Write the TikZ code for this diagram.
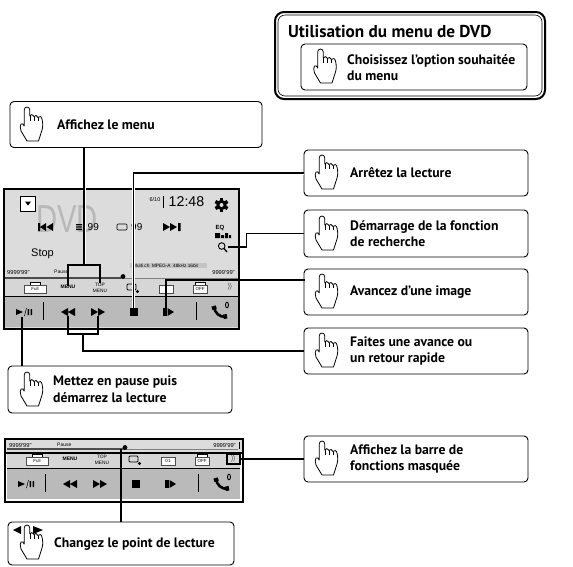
\documentclass[tikz,border=0pt]{standalone}
\usepackage{fontspec}
\setmainfont{PT Sans}
\newfontfamily\uifont{Liberation Sans}
\usetikzlibrary{arrows,positioning}
\definecolor{screenbg}{HTML}{DCDCDC}
\definecolor{midbg}{HTML}{D6D6D6}
\definecolor{lowbg}{HTML}{BABABA}
\definecolor{tagbg}{HTML}{C4C4C4}
\tikzset{font=\small}
\tikzset{callbox/.style={draw,line width=.9pt,rounded corners=4pt,fill=white,inner sep=0pt}}
\tikzset{calltext/.style={anchor=west,align=left,inner sep=0pt,font=\fontsize{13.7}{16.6}\selectfont\bfseries}}
\tikzset{link/.style={line width=1.3pt,line cap=rect}}
\tikzset{halo/.style={preaction={draw=white,line width=3pt}}}
\tikzset{uitext/.style={inner sep=0pt,font=\uifont\fontsize{#1}{#1}\selectfont}}
\tikzset{softkey/.style={draw=black!70,line width=.5pt,fill=white,minimum width=14pt,minimum height=8.5pt,inner sep=0pt,font=\uifont\fontsize{4.5}{5}\selectfont}}
\tikzset{iconbox/.style={inner sep=0pt,minimum width=#1,minimum height=8pt}}
\tikzset{
  hand/.pic={
    \draw[line width=.8pt,fill=white,line join=round]
      (-2.8,19)--(-2.8,3) .. controls (-2.8,-1) and (2.8,-1) .. (2.8,3)--(2.8,9)
      .. controls (4,7) and (6,7) .. (7,9.5) .. controls (8,8) and (10,8) .. (11,10.5)
      .. controls (12,9) and (14.5,9) .. (15,12) .. controls (16,16) and (16,20) .. (15,23)
      --(11.5,34)--(0,34)--(-6,24) .. controls (-7,21) and (-7,18) .. (-6,17)
      .. controls (-5,16) and (-3.5,17) .. (-2.8,19)--cycle;
    \draw[line width=.6pt] (2.8,9)--(2.8,14) (7,9.5)--(7,14) (11,10.5)--(11,14);
  },
  toolbar/.pic={
    \fill[midbg] (5,279) rectangle (238,296);
    \fill[lowbg] (5,296) rectangle (238,327);
    \draw[line width=.9pt] (5,296)--(238,296);
    \draw[line width=.4pt,fill=white] (30,282.5) rectangle (40,286);
    \node[softkey,minimum width=22pt] (-full) at (35,289) {Full};
    \node[uitext=5,font=\uifont\bfseries\fontsize{5}{5}\selectfont] (-menu) at (68,287) {MENU};
    \node[uitext=4.8,align=center] (-top) at (100,287.5) {TOP\\[1pt]MENU};
    \draw[line width=.8pt,rounded corners=1pt] (127,284) rectangle (136,290);
    \fill (137.5,291.5) circle (1.6);
    \node[softkey] (-chap) at (166,289) {};
    \draw[line width=.4pt,fill=white] (195,282.5) rectangle (205,286);
    \node[softkey] (-off) at (200,289) {OFF};
    \node[uitext=7] (-more) at (230,287) {$\rangle\!\rangle$};
    % lower row of keys
    \coordinate (-play) at (22,318);
    \fill (16,309)--(16,315)--(23,312)--cycle;
    \draw[line width=.6pt] (24.5,316)--(26.5,308);
    \fill (27.5,309) rectangle (29,315) (30.5,309) rectangle (32,315);
    \draw[line width=.8pt] (43,302)--(43,320) (196,302)--(196,320);
    \node[iconbox=14pt] (-rew) at (68,312) {};
    \fill (61,312)--(68,308)--(68,316)--cycle (68,312)--(75,308)--(75,316)--cycle;
    \node[iconbox=14pt] (-fwd) at (98,312) {};
    \fill (98,308)--(98,316)--(105,312)--cycle (91,308)--(91,316)--(98,312)--cycle;
    \node[draw,fill=black,inner sep=0pt,minimum size=7pt] (-stop) at (133.5,312) {};
    \node[iconbox=10pt] (-step) at (166,312) {};
    \fill (163,308) rectangle (167,316);
    \fill (167.5,308)--(167.5,316)--(174,312)--cycle;
    \draw[line width=2.6pt] (214,307) .. controls (215,313) and (219,317) .. (226,317);
    \draw[line width=4.5pt] (213.6,306)--(214.6,309.5) (223.5,316.8)--(227,316.2);
    \draw[line width=.9pt] (227,305) ellipse (1.5 and 2.8);
  }
}
\begin{document}
\begin{tikzpicture}[x=1pt,y=-1pt]
\useasboundingbox (0,0) rectangle (573,566);
% first screen
\node[draw,line width=2pt,fill=screenbg,minimum width=235pt,minimum height=140pt,inner sep=0pt] (screenA) at (121.5,259) {};
\node[uitext=39,text=black!28] (dvdtitle) at (67,219) {\scalebox{.75}[1]{DVD}};
\node[draw,line width=.9pt,fill=white,minimum size=15pt,inner sep=0pt] (dropkey) at (28,203.5) {};
\fill (25,201.5)--(31,201.5)--(28,205.5)--cycle;
\node[uitext=5.5] (track) at (155,200) {6/10};
\node[uitext=14.2] (clock) at (186.5,202) {12:48};
\draw[line width=.8pt] (163.5,196)--(163.5,208);
% gear of the settings key
\fill (221.5,205) circle (5.2);
\foreach \a in {0,60,...,300}{
  \fill[rotate around={\a:(221.5,205)}] (219.8,198) rectangle (223.2,202);
};
\fill[screenbg] (221.5,205) circle (2);
\fill (38,223) rectangle (40,231) (40,227)--(46,223)--(46,231)--cycle (46.5,227)--(53,223)--(53,231)--cycle;
\fill (163,223)--(163,231)--(170,227)--cycle (170,223)--(170,231)--(177,227)--cycle (178,223) rectangle (180.5,231);
\fill (76,224) rectangle (82,225.4) (76,226.3) rectangle (82,227.7) (76,228.6) rectangle (82,230);
\node[uitext=10,anchor=west] (folder) at (87.5,227) {99};
\draw[line width=.6pt,rounded corners=1pt] (117,224) rectangle (127,230);
\node[uitext=10,anchor=west] (songno) at (131,227) {99};
\node[font=\uifont\bfseries\fontsize{6}{6}\selectfont,inner sep=0pt] (eq) at (220,228) {EQ};
\fill (215,233) rectangle (220,238) (221,235) rectangle (224,238) (225,233) rectangle (228,238) (229,235) rectangle (231,238);
\node[inner sep=0pt,minimum size=5pt] (lens) at (225.5,247) {};
\draw[line width=.9pt] (221.7,246) circle (3.3);
\draw[line width=1.3pt] (224,248.5)--(227,252);
\node[uitext=11,anchor=west] (status) at (31,254) {Stop};
\fill[tagbg] (129.5,263) rectangle (207,268);
\node[uitext=4.7,anchor=west] (tags) at (133,265.5) {Multi ch \ MPEG-A \ 48kHz 16bit};
\node[uitext=5.8,anchor=west] (timeleft) at (7,272) {9999'99"};
\node[uitext=5,anchor=west] (pauseA) at (54,272) {Pause};
\node[uitext=5.8,anchor=east] (timeright) at (235,272) {9999'99"};
\pic (a) at (0,0) {toolbar};
\draw[line width=1.1pt,black!70] (5,278)--(121,278);
\draw[line width=.5pt,black!50] (121,278)--(238,278);
\fill (123,276.5) circle (2.4);
\draw[line width=2pt] (4,189) rectangle (239,329);
% second screen
\node[draw,line width=2pt,fill=white,minimum width=238pt,minimum height=63pt,inner sep=0pt] (screenB) at (124,470.5) {};
\begin{scope}[shift={(2,172)}]
  \pic (b) at (0,0) {toolbar};
\end{scope}
\node[uitext=4.5] (chapno) at (b-chap) {01};
\fill[screenbg] (6,440) rectangle (242,452);
\draw[line width=1.8pt] (5,439)rectangle (243,453);
\draw[line width=2pt] (5,439) rectangle (243,502);
\node[uitext=5.8,anchor=west] (timeleftB) at (9,445) {9999'99"};
\node[uitext=5,anchor=west] (pauseB) at (57,445) {Pause};
\node[uitext=5.8,anchor=east] (timerightB) at (236,445) {9999'99"};
\draw[line width=.8pt] (239.5,442)--(239.5,449);
\draw[line width=1.1pt,black!70] (7,449)--(124,449);
\draw[line width=.5pt,black!50] (124,449)--(238,449);
\node[circle,fill,inner sep=0pt,minimum size=4.8pt] (seekdot) at (125,447.5) {};
\node[draw,line width=1.4pt,fill=screenbg,minimum width=13pt,minimum height=10pt,inner sep=0pt,uitext=7] (morekey) at (233.5,459) {$\rangle\!\rangle$};
% call-outs
\node[draw,line width=2pt,rounded corners=9pt,minimum width=270pt,minimum height=87pt,inner sep=0pt] (menuouter) at (410,55.5) {};
\node[draw,line width=.6pt,rounded corners=7pt,minimum width=264pt,minimum height=81pt,inner sep=0pt] (menuinner) at (410,55.5) {};
\node[calltext,font=\fontsize{17.2}{20}\selectfont\bfseries] (menutitle) at (288,32) {Utilisation du menu de DVD};
\node[callbox,minimum width=226pt,minimum height=46pt] (choisir) at (414,67) {};
\pic at (320.5,49) {hand};
\node[calltext] (choisirtxt) at (347,67.5) {Choisissez l’option souhaitée\\du menu};
\node[callbox,minimum width=252pt,minimum height=46pt] (afficher) at (136,124.5) {};
\pic at (27,107) {hand};
\node[calltext] (affichertxt) at (57,124.5) {Affichez le menu};
\node[callbox,minimum width=224pt,minimum height=46pt] (arret) at (416,173) {};
\pic at (322,155) {hand};
\node[calltext] (arrettxt) at (350,173) {Arrêtez la lecture};
\node[callbox,minimum width=224pt,minimum height=47pt] (recherche) at (416,233.5) {};
\pic at (322,216) {hand};
\node[calltext] (recherchetxt) at (350,233.5) {Démarrage de la fonction\\de recherche};
\node[callbox,minimum width=224pt,minimum height=46pt] (image) at (416,292) {};
\pic at (322,274) {hand};
\node[calltext] (imagetxt) at (350,292) {Avancez d’une image};
\node[callbox,minimum width=224pt,minimum height=46pt] (rapide) at (416,351) {};
\pic at (322,333) {hand};
\node[calltext] (rapidetxt) at (350,351) {Faites une avance ou\\un retour rapide};
\node[callbox,minimum width=224pt,minimum height=47pt] (pause) at (120,389.5) {};
\pic at (27,372) {hand};
\node[calltext] (pausetxt) at (53,389.5) {Mettez en pause puis\\démarrez la lecture};
\node[callbox,minimum width=224pt,minimum height=46pt] (barre) at (416,459) {};
\pic at (322,441) {hand};
\node[calltext] (barretxt) at (350,459) {Affichez la barre de\\fonctions masquée};
\node[callbox,minimum width=226pt,minimum height=43pt] (seek) at (121,543.5) {};
\pic at (27,525) {hand};
\node[calltext] (seektxt) at (54,544) {Changez le point de lecture};
\fill (13,530)--(21,526)--(21,534)--cycle (43,530)--(33,526)--(33,534)--cycle;
% connectors
\coordinate (menujoin) at (84,265);
\coordinate (rapidejoin) at (83,334);
\coordinate (imageport) at (304,280);
\coordinate (seekport) at (121,450);
\draw[link,halo] (menujoin |- afficher.south)--(menujoin);
\draw[link] (a-menu.north) |- (menujoin) -| (a-top.north);
\draw[link,halo] (arret.west) -| (a-stop.north);
\draw[link] (recherche.west) -- ++(-57,0) |- (lens.east);
\draw[link] (imageport) -| (a-step.north);
\draw[link] (a-rew.south) |- (rapidejoin) -| (a-fwd.south);
\draw[link] (rapidejoin) |- (rapide.west);
\draw[link] (a-play) -- (a-play |- pause.north);
\draw[link] (morekey.east) -- (barre.west);
\draw[link] (seekport) -- (seekport |- seek.north);
\end{tikzpicture}
\end{document}
